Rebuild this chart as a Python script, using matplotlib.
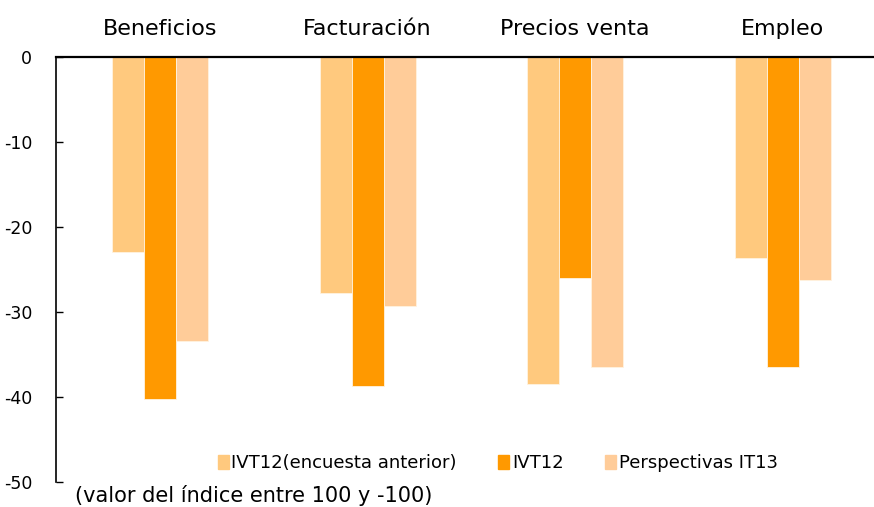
import numpy as np
import matplotlib.pyplot as plt
from matplotlib.patches import Patch

# -----------------------------
# Data
# -----------------------------
categories = ["Beneficios", "Facturación", "Precios venta", "Empleo"]
series_names = ["IVT12(encuesta anterior)", "IVT12", "Perspectivas IT13"]
prev_survey = [-22.9, -27.8, -38.5, -23.6]
ivt12 = [-40.2, -38.7, -26.0, -36.5]
outlook_it13 = [-33.4, -29.3, -36.5, -26.2]
y_ticks = [0, -10, -20, -30, -40, -50]

colors = ["#FFC97E", "#FF9900", "#FFCC99"]
plt.rcParams["hatch.color"] = "#F0B060"

fig = plt.figure(figsize=(8.74, 5.07), dpi=100)
ax = fig.add_axes([0.064, 0.049, 0.936, 0.8385])

x = np.arange(len(categories))
width = 0.154
for i, (vals, col) in enumerate(zip([prev_survey, ivt12, outlook_it13], colors)):
    ax.bar(x + (i - 1) * width, vals, width, color=col,
           edgecolor="#FFF3E0", linewidth=0.6, zorder=2)

ax.set_xlim(-0.502, 3.44)
ax.set_ylim(-50, 0)
ax.set_yticks(y_ticks)
ax.set_yticklabels([str(v) for v in y_ticks], fontsize=12.5)
ax.tick_params(axis="y", direction="in", length=5, width=1, pad=17)

ax.xaxis.tick_top()
ax.set_xticks(x)
ax.set_xticklabels(categories, fontsize=16)
ax.tick_params(axis="x", length=0, pad=13)

for s in ["right", "bottom"]:
    ax.spines[s].set_visible(False)
ax.spines["left"].set_linewidth(1.2)
ax.spines["top"].set_linewidth(1.6)

handles = [
    Patch(facecolor=colors[0], edgecolor=colors[0], hatch="....", label=series_names[0]),
    Patch(facecolor=colors[1], edgecolor=colors[1], label=series_names[1]),
    Patch(facecolor=colors[2], edgecolor=colors[2], label=series_names[2]),
]
ax.legend(handles=handles, loc="center", bbox_to_anchor=(0.54, 0.045), ncol=3,
          frameon=False, fontsize=13, handlelength=0.6, handleheight=0.8,
          handletextpad=0.15, columnspacing=2.3)

fig.text(0.086, 0.022, "(valor del índice entre 100 y -100)", fontsize=15, va="center")

fig.savefig("out.png", dpi=100)
